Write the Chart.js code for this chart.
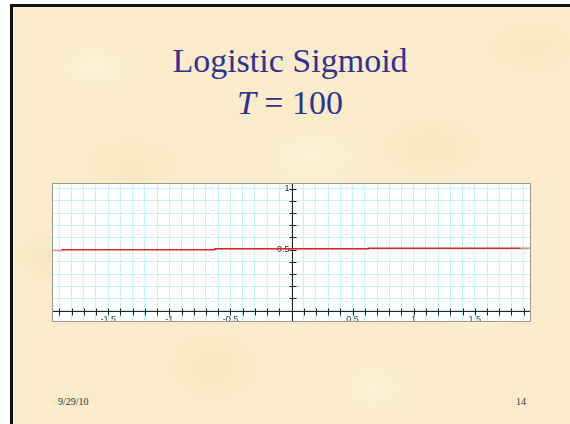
<!DOCTYPE html>
<html>
<head>
<meta charset="utf-8">
<script src="https://cdn.jsdelivr.net/npm/chart.js@4"></script>
<style>
  html, body { margin: 0; padding: 0; }
  body { width: 570px; height: 424px; background: #fff; position: relative; overflow: hidden; }
  .slide {
    position: absolute; left: 10px; top: 4px; width: 560px; height: 420px;
    border-left: 3px solid #111; border-top: 3px solid #111; box-sizing: border-box;
    background-color: #faecca;
    background-image:
      radial-gradient(ellipse 40px 25px at 80px 60px, rgba(255,250,232,0.5), transparent),
      radial-gradient(ellipse 50px 30px at 420px 140px, rgba(242,220,175,0.4), transparent),
      radial-gradient(ellipse 45px 35px at 200px 360px, rgba(243,222,178,0.4), transparent),
      radial-gradient(ellipse 50px 30px at 470px 300px, rgba(255,248,228,0.5), transparent),
      radial-gradient(ellipse 60px 35px at 300px 150px, rgba(255,248,228,0.45), transparent),
      radial-gradient(ellipse 35px 25px at 40px 250px, rgba(242,220,175,0.4), transparent),
      radial-gradient(ellipse 45px 25px at 520px 40px, rgba(244,222,178,0.4), transparent),
      radial-gradient(ellipse 50px 30px at 120px 160px, rgba(244,222,178,0.35), transparent),
      radial-gradient(ellipse 40px 30px at 360px 380px, rgba(255,248,228,0.45), transparent);
  }
  .title {
    position: absolute; left: 10px; width: 560px; text-align: center;
    font-family: "Liberation Serif", "Times New Roman", serif; color: #2e3192;
    font-size: 34px; line-height: 1;
  }
  .foot {
    position: absolute; top: 396px;
    font-family: "Liberation Serif", "Times New Roman", serif; font-size: 10px; color: #333;
  }
  #plot { position: absolute; left: 52px; top: 183px; width: 479px; height: 139px; background: #fff; }
</style>
</head>
<body>
<div class="slide"></div>
<div class="title" style="top:44px">Logistic Sigmoid</div>
<div class="title" style="top:86px"><i>T</i> = 100</div>
<div class="foot" style="left:58px">9/29/10</div>
<div class="foot" style="left:516px">14</div>
<div id="plot"><canvas id="sigmoidChart" width="479" height="139"></canvas></div>
<script>
// sampled curve, as plotted (steps of the rendered line)
const stepX = [-1.96, -1.875, -0.628, 0.628, 1.875, 1.96];
const stepY = [0.488, 0.492, 0.5, 0.508, 0.512, 0.512];

const xRange = [-1.96, 1.96];
const yRange = [-0.093, 1.046];
const xTickLabels = [-1.5, -1, -0.5, 0.5, 1, 1.5];
const yTickLabels = [0.5, 1];

const points = stepX.map((x, i) => ({ x: x, y: stepY[i] }));

// axes through the origin, small crossing ticks, labels, frame
const slideAxes = {
  id: "slideAxes",
  beforeDatasetsDraw(chart) {
    const c = chart.ctx, xs = chart.scales.x, ys = chart.scales.y, a = chart.chartArea;
    const x0 = Math.round(xs.getPixelForValue(0)) + 0.5;
    const y0 = Math.round(ys.getPixelForValue(0)) + 0.5;
    c.save();
    c.strokeStyle = "#222";
    c.lineWidth = 1;
    c.beginPath();
    c.moveTo(a.left, y0); c.lineTo(a.right, y0);
    c.moveTo(x0, a.top); c.lineTo(x0, a.bottom);
    for (let v = -19; v <= 19; v++) {
      if (v === 0) continue;
      const px = Math.round(xs.getPixelForValue(v / 10)) + 0.5;
      c.moveTo(px, y0 - 3); c.lineTo(px, y0 + 4);
    }
    for (let v = 1; v <= 10; v++) {
      const py = Math.round(ys.getPixelForValue(v / 10)) + 0.5;
      c.moveTo(x0 - 3, py); c.lineTo(x0 + 4, py);
    }
    c.stroke();
    c.fillStyle = "#333";
    c.font = "9px 'Liberation Sans', Arial, sans-serif";
    c.textAlign = "center";
    c.textBaseline = "middle";
    xTickLabels.forEach(v => c.fillText(String(v), xs.getPixelForValue(v), y0 + 8.5));
    c.textAlign = "right";
    yTickLabels.forEach(v => c.fillText(String(v), x0 - 3, ys.getPixelForValue(v)));
    c.restore();
  },
  afterDraw(chart) {
    const c = chart.ctx;
    c.save();
    c.strokeStyle = "#999";
    c.lineWidth = 1;
    c.strokeRect(0.5, 0.5, chart.width - 1, chart.height - 1);
    c.restore();
  }
};

new Chart(document.getElementById("sigmoidChart").getContext("2d"), {
  type: "line",
  data: {
    datasets: [
      {
        data: points,
        stepped: "after",
        borderColor: "#e82020",
        borderWidth: 1.5,
        pointRadius: 0,
        fill: false,
        segment: {
          borderColor: ctx => (ctx.p0.parsed.x < -1.9 || ctx.p0.parsed.x > 1.8) ? "#f08c8c" : "#e82020",
        },
      },
    ],
  },
  options: {
    responsive: false,
    animation: false,
    layout: { padding: 0 },
    plugins: { legend: { display: false }, tooltip: { enabled: false } },
    scales: {
      x: {
        type: "linear",
        min: xRange[0],
        max: xRange[1],
        ticks: { display: false, stepSize: 0.1, includeBounds: false },
        grid: { color: "#c4f3f5", drawTicks: false },
        border: { display: false },
      },
      y: {
        type: "linear",
        min: yRange[0],
        max: yRange[1],
        ticks: { display: false, stepSize: 0.1, includeBounds: false },
        grid: { color: "#c4f3f5", drawTicks: false },
        border: { display: false },
      },
    },
  },
  plugins: [slideAxes],
});
</script>
</body>
</html>
